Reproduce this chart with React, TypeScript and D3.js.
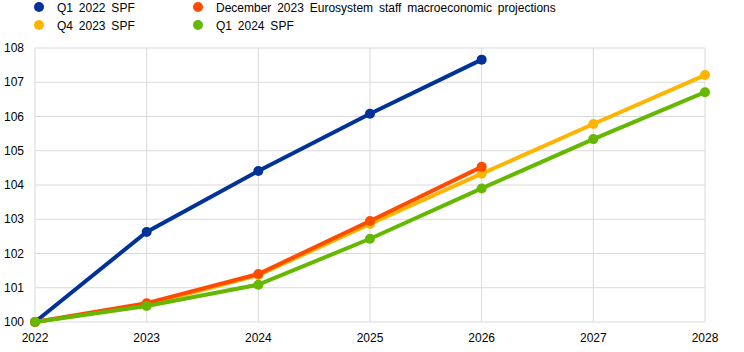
import { useRef, useEffect } from "react";
import * as d3 from "d3";

const years = [2022, 2023, 2024, 2025, 2026, 2027, 2028];
const yTicks = [100, 101, 102, 103, 104, 105, 106, 107, 108];

const seriesNames = [
  "Q1 2022 SPF",
  "December 2023 Eurosystem staff macroeconomic projections",
  "Q4 2023 SPF",
  "Q1 2024 SPF",
];
const seriesColors = ["#003299", "#ff4b00", "#ffb400", "#65b800"];

const q1_2022: number[] = [100, 102.63, 104.41, 106.08, 107.66];
const dec2023: number[] = [100, 100.55, 101.4, 102.95, 104.53];
const q4_2023: number[] = [100, 100.5, 101.37, 102.86, 104.33, 105.78, 107.21];
const q1_2024: number[] = [100, 100.47, 101.09, 102.43, 103.9, 105.34, 106.71];

// legend order: Q1 2022, Q4 2023 in col 1; Dec 2023, Q1 2024 in col 2
const legendOrder = [0, 2, 1, 3];
// drawing order (last on top)
const drawOrder = [0, 2, 1, 3];

export default function App() {
  const svgRef = useRef<SVGSVGElement>(null);

  useEffect(() => {
    const svg = svgRef.current;
    if (!svg) return;

    const width = 744;
    const height = 352;
    const margin = { top: 48, right: 39, bottom: 30, left: 35 };
    const innerW = width - margin.left - margin.right;
    const innerH = height - margin.top - margin.bottom;

    const x = d3.scaleLinear().domain([2022, 2028]).range([0, innerW]);
    const y = d3.scaleLinear().domain([100, 108]).range([innerH, 0]);

    const sel = d3.select(svg);
    sel.selectAll("*").remove();
    sel.attr("width", width).attr("height", height);

    const font = "Arial, 'Liberation Sans', sans-serif";

    const g = sel.append("g").attr("transform", `translate(${margin.left},${margin.top})`);

    // Grid
    g.selectAll("line.h")
      .data(yTicks)
      .join("line")
      .attr("x1", 0)
      .attr("x2", innerW)
      .attr("y1", (d) => y(d))
      .attr("y2", (d) => y(d))
      .attr("stroke", "#d9d9d9")
      .attr("stroke-width", 1);

    g.selectAll("line.v")
      .data(years)
      .join("line")
      .attr("x1", (d) => x(d))
      .attr("x2", (d) => x(d))
      .attr("y1", 0)
      .attr("y2", innerH)
      .attr("stroke", "#d9d9d9")
      .attr("stroke-width", 1);

    // Axes labels
    g.selectAll("text.yl")
      .data(yTicks)
      .join("text")
      .attr("x", -11)
      .attr("y", (d) => y(d) + 4)
      .attr("text-anchor", "end")
      .attr("font-family", font)
      .attr("font-size", "12px")
      .attr("fill", "#000")
      .text((d) => d);

    g.selectAll("text.xl")
      .data(years)
      .join("text")
      .attr("x", (d) => x(d))
      .attr("y", innerH + 20)
      .attr("text-anchor", "middle")
      .attr("font-family", font)
      .attr("font-size", "12px")
      .attr("fill", "#000")
      .text((d) => d);

    const allData = [q1_2022, dec2023, q4_2023, q1_2024];

    const line = d3
      .line<number>()
      .x((_, i) => x(years[i]))
      .y((d) => y(d));

    drawOrder.forEach((si) => {
      const data = allData[si];
      const color = seriesColors[si];
      g.append("path")
        .datum(data)
        .attr("fill", "none")
        .attr("stroke", color)
        .attr("stroke-width", 4)
        .attr("d", line);
      g.append("g")
        .selectAll("circle")
        .data(data)
        .join("circle")
        .attr("cx", (_, i) => x(years[i]))
        .attr("cy", (d) => y(d))
        .attr("r", 5)
        .attr("fill", color);
    });

    // Legend
    const legend = sel.append("g");
    legendOrder.forEach((si, k) => {
      const col = Math.floor(k / 2);
      const row = k % 2;
      const lx = col === 0 ? 39 : 198;
      const ly = 7 + row * 18;
      legend
        .append("circle")
        .attr("cx", lx)
        .attr("cy", ly)
        .attr("r", 5)
        .attr("fill", seriesColors[si]);
      legend
        .append("text")
        .attr("x", lx + 18)
        .attr("y", ly + 4.5)
        .attr("font-family", font)
        .attr("font-size", "12px")
        .attr("word-spacing", "2.5px")
        .attr("fill", "#000")
        .text(seriesNames[si]);
    });
  }, []);

  return <svg ref={svgRef} style={{ position: "absolute", left: 0, top: 0 }} />;
}
